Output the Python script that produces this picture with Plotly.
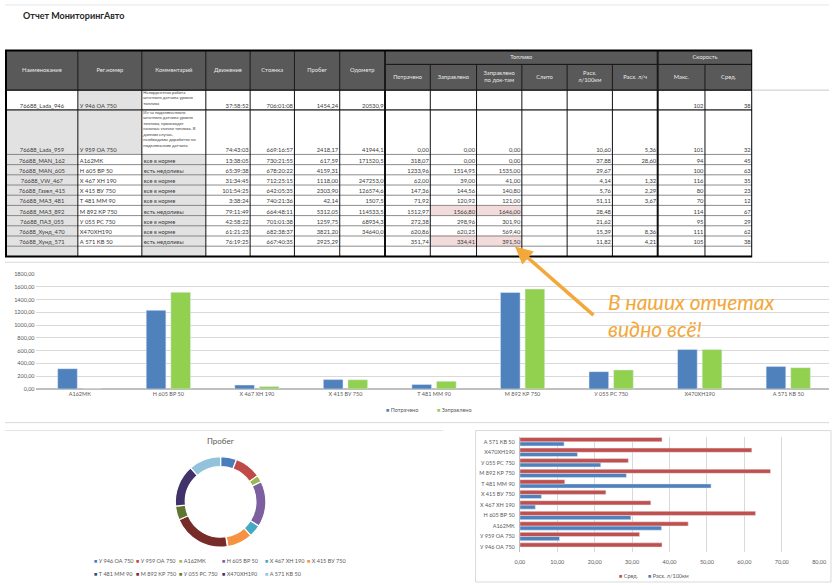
import numpy as np
import plotly.graph_objects as go

W, H = 837, 585

# ================= DATA =================
names = ["76688_Lada_946", "76688_Lada_959", "76688_MAN_162", "76688_MAN_605", "76688_VW_467",
         "76688_Газел_415", "76688_МАЗ_481", "76688_МАЗ_892", "76688_ПАЗ_055", "76688_Хунд_470",
         "76688_Хунд_571"]
plates = ["У 946 ОА 750", "У 959 ОА 750", "А162МК", "Н 605 ВР 50", "Х 467 ХН 190", "Х 415 ВУ 750",
          "Т 481 ММ 90", "М 892 КР 750", "У 055 РС 750", "Х470ХН190", "А 571 КВ 50"]
comments = ["Некорректная работа<br>штатного датчика уровня<br>топлива",
            "Из-за подключенного<br>штатного датчика уровня<br>топлива, происходят<br>сильные скачки топлива. В<br>данном случае,<br>необходимы доработки по<br>подключению датчика",
            "все в норме", "есть недоливы", "все в норме", "все в норме", "все в норме",
            "есть недоливы", "все в норме", "все в норме", "есть недоливы"]
moving = ["37:58:52", "74:43:03", "13:38:05", "65:39:38", "31:34:45", "101:54:25", "3:38:24",
          "79:11:49", "42:58:22", "61:21:23", "76:19:25"]
parking = ["706:01:08", "669:16:57", "730:21:55", "678:20:22", "712:25:15", "642:05:35",
           "740:21:36", "664:48:11", "701:01:38", "682:38:37", "667:40:35"]
mileage = [1454.24, 2418.17, 617.59, 4159.31, 1118.00, 2303.90, 42.14, 5312.05, 1259.75, 3821.20, 2925.29]
odometer = [20530.9, 41944.1, 171520.5, None, 247253.0, 126574.6, 1507.5, 114533.5, 68934.3, 34640.0, None]
fuel_spent = [None, 0.00, 318.07, 1233.96, 62.00, 147.36, 71.92, 1512.97, 272.38, 620.86, 351.74]
fuel_filled = [None, 0.00, 0.00, 1514.95, 39.00, 144.56, 120.92, 1566.80, 298.96, 620.25, 334.41]
fuel_filled_docs = [None, 0.00, 0.00, 1535.00, 41.00, 140.80, 121.00, 1646.00, 301.90, 569.40, 391.50]
fuel_drained = [None] * 11
cons_per_100km = [None, 10.60, 37.88, 29.67, 4.14, 5.76, 51.11, 28.48, 21.62, 15.39, 11.82]
cons_per_hour = [None, 5.36, 28.60, None, 1.32, 2.29, 3.67, None, None, 8.36, 4.21]
speed_max = [102, 101, 94, 100, 116, 80, 70, 114, 95, 111, 105]
speed_avg = [38, 32, 45, 63, 35, 23, 12, 67, 29, 62, 38]
highlight_rows = ["76688_МАЗ_892", "76688_Хунд_571"]

table_headers = ["Наименование", "Рег.номер", "Комментарий", "Движение", "Стоянка", "Пробег", "Одометр",
                 "Потрачено", "Заправлено", "Заправлено<br>по док-там", "Слито", "Расх.<br>л/100км",
                 "Расх. л/ч", "Макс.", "Сред."]
group_headers = ["Топливо", "Скорость"]
bar_series = ["Потрачено", "Заправлено"]
hbar_series = ["Сред.", "Расх. л/100км"]
donut_title = "Пробег"
report_title = "Отчет МониторингАвто"
callout = "В наших отчетах<br>видно всё!"

# ================= STYLE =================
FONT = "Lato"
TXT = "#3A3A3A"
AXT = "#595959"
BLUE, GREEN, RED = "#4F81BD", "#92D050", "#C0504D"
ORANGE = "#F2A83A"
donut_colors = ["#4A7EBB", "#BE4B48", "#98B954", "#7D60A0", "#46AAC5", "#F69240",
                "#2C4D75", "#772C2A", "#5F7530", "#41336A", "#93C3DC"]

col_w = [73, 65, 65, 45, 45, 46, 46, 46, 47, 46, 46, 46, 46, 48, 48]
x_edges = np.concatenate([[0.0], np.cumsum(col_w)])
TOP, GROUP_H, SUB_H = 48.0, 14.0, 26.0
body_h = [20.0, 45.0] + [10.3] * 10
y_edges = np.concatenate([[TOP, TOP + GROUP_H],
                          TOP + GROUP_H + SUB_H + np.concatenate([[0.0], np.cumsum(body_h)])])
TW = x_edges[-1]
BODY_TOP = y_edges[2]
BOT = y_edges[-1]


def fmt(v, d=2):
    return "" if v is None else f"{v:.{d}f}".replace(".", ",")


def px(xp):
    return xp / W


def py(yp):
    return 1 - yp / H


fig = go.Figure()

# ================= TABLE =================
body_cols = [names, plates, comments, moving, parking,
             [fmt(v) for v in mileage], [fmt(v, 1) for v in odometer],
             [fmt(v) for v in fuel_spent], [fmt(v) for v in fuel_filled],
             [fmt(v) for v in fuel_filled_docs], [fmt(v) for v in fuel_drained],
             [fmt(v) for v in cons_per_100km], [fmt(v) for v in cons_per_hour],
             [str(v) for v in speed_max], [str(v) for v in speed_avg]]
aligns = ["center", "left", "left"] + ["right"] * 12
ncol = len(body_cols)
nrow = len(names)

# cell fills (0 white, 1 gray, 2 pink, 3 header)
z = [[3] * ncol, [3] * ncol]
pink_cols = [8, 9]
for i in range(nrow + 1):
    row = []
    for j in range(ncol):
        if i == 0:
            c = 1 if j == 1 else 0
        elif i == 1:
            c = 1 if j in (0, 1) else 0
        else:
            c = 1 if j in (0, 2) else 0
        if i < nrow and names[i] in highlight_rows and j in pink_cols:
            c = 2
        row.append(c)
    z.append(row)

cs = [[0, "#FFFFFF"], [1 / 6, "#FFFFFF"], [1 / 6, "#E2E2E2"], [0.5, "#E2E2E2"],
      [0.5, "#F2DCDB"], [5 / 6, "#F2DCDB"], [5 / 6, "#595959"], [1, "#595959"]]
fig.add_trace(go.Heatmap(x=x_edges, y=y_edges, z=z, zmin=0, zmax=3, colorscale=cs,
                         showscale=False, hoverinfo="skip", xaxis="x3", yaxis="y3"))


def add_text(x, y, text, pos, size=6, color=TXT, xa="x3", ya="y3", family=FONT):
    fig.add_trace(go.Scatter(x=x, y=y, text=text, mode="text", textposition=pos,
                             textfont=dict(family=family, size=size, color=color),
                             hoverinfo="skip", showlegend=False, xaxis=xa, yaxis=ya))


# header labels
for j, h in enumerate(table_headers):
    yc = (y_edges[0] + y_edges[2]) / 2 if j < 7 else (y_edges[1] + y_edges[2]) / 2
    add_text([(x_edges[j] + x_edges[j + 1]) / 2], [yc], [h], "middle center", 5.8, "#E8E8E8")
add_text([(x_edges[7] + x_edges[13]) / 2, (x_edges[13] + x_edges[15]) / 2],
         [(y_edges[0] + y_edges[1]) / 2] * 2, group_headers, "middle center", 5.8, "#E8E8E8")

# body labels
for j, col in enumerate(body_cols):
    xs, ys, ts = [], [], []
    for i, t in enumerate(col):
        if t == "" or (j == 2 and i < 2):
            continue
        if aligns[j] == "center":
            xs.append((x_edges[j] + x_edges[j + 1]) / 2)
        elif aligns[j] == "left":
            xs.append(x_edges[j] + 2)
        else:
            xs.append(x_edges[j + 1] - 1.5)
        ys.append(y_edges[3 + i] - 0.6)
        ts.append(t)
    pos = {"center": "top center", "left": "top right", "right": "top left"}[aligns[j]]
    add_text(xs, ys, ts, pos, 5.8)
# multi-line comments
add_text([x_edges[2] + 1.5] * 2, [y_edges[2] + 0.8, y_edges[3] + 0.8], comments[:2], "bottom right", 4.2)

shapes = []


def seg(x0, y0, x1, y1, color, width):
    shapes.append(dict(type="line", xref="x3", yref="y3", x0=x0, y0=y0, x1=x1, y1=y1,
                       line=dict(color=color, width=width)))


# horizontal lines
for k in range(4, len(y_edges) - 1):
    seg(0, y_edges[k], TW, y_edges[k], "#707070", 0.8)
seg(0, y_edges[3], TW, y_edges[3], "#5A5A5A", 1.6)
seg(0, BODY_TOP, TW, BODY_TOP, "#111111", 1.4)
seg(x_edges[7], y_edges[1], TW, y_edges[1], "#111111", 1)
# vertical lines
for k in range(1, ncol):
    wdt = 2 if k in (7, 13) else 1
    seg(x_edges[k], BODY_TOP, x_edges[k], BOT, "#111111", wdt)
    if k <= 7 or k == 13:
        seg(x_edges[k], TOP, x_edges[k], BODY_TOP, "#1A1A1A", wdt)
    else:
        seg(x_edges[k], y_edges[1], x_edges[k], BODY_TOP, "#1A1A1A", 1)
shapes.append(dict(type="rect", xref="x3", yref="y3", x0=0, y0=TOP, x1=TW, y1=BOT,
                   line=dict(color="#000000", width=2)))


# page decorations (paper coords)
def pline(x0, y0, x1, y1, color="#D9D9D9", width=1):
    shapes.append(dict(type="line", xref="paper", yref="paper", x0=px(x0), y0=py(y0),
                       x1=px(x1), y1=py(y1), line=dict(color=color, width=width)))


pline(0, 2, W, 2, "#E6E6E6")
pline(TW + 1, BODY_TOP, W, BODY_TOP, "#C8C8C8")
pline(0, 262, W, 262, "#D9D9D9")
pline(0, 424, W, 424, "#D9D9D9")
pline(0, 432, 445, 432, "#E3E3E3")
shapes.append(dict(type="rect", xref="paper", yref="paper", x0=px(478), y0=py(585), x1=px(W + 2),
                   y1=py(432), line=dict(color="#D9D9D9", width=1)))

# ================= BAR CHART =================
bar_cats = plates[2:]
fig.add_trace(go.Bar(x=bar_cats, y=fuel_spent[2:], name=bar_series[0], marker_color=BLUE,
                     width=0.222, offset=-0.25, xaxis="x", yaxis="y",
                     hovertemplate="%{x}: %{y:.2f}<extra>" + bar_series[0] + "</extra>"))
fig.add_trace(go.Bar(x=bar_cats, y=fuel_filled[2:], name=bar_series[1], marker_color=GREEN,
                     width=0.222, offset=0.028, xaxis="x", yaxis="y",
                     hovertemplate="%{x}: %{y:.2f}<extra>" + bar_series[1] + "</extra>"))

# ================= HORIZONTAL BARS =================
fig.add_trace(go.Bar(y=plates, x=cons_per_100km, orientation="h", name=hbar_series[1],
                     marker_color=BLUE, width=0.4, offset=-0.4, xaxis="x2", yaxis="y2"))
fig.add_trace(go.Bar(y=plates, x=speed_avg, orientation="h", name=hbar_series[0],
                     marker_color=RED, width=0.4, offset=0.0, xaxis="x2", yaxis="y2"))

# ================= DONUT =================
fig.add_trace(go.Pie(labels=plates, values=mileage, hole=0.78, sort=False, direction="clockwise",
                     rotation=0, marker=dict(colors=donut_colors, line=dict(color="white", width=1.2)),
                     textinfo="none", showlegend=False,
                     domain=dict(x=[px(173), px(265)], y=[py(550), py(458)])))

annotations = [
    dict(text="<b>" + report_title + "</b>", x=px(16), y=py(13), xref="paper", yref="paper",
         xanchor="left", yanchor="middle", showarrow=False,
         font=dict(family=FONT, size=9, color="#262626")),
    dict(text=donut_title, x=px(219), y=py(443), xref="paper", yref="paper", xanchor="center",
         yanchor="middle", showarrow=False, font=dict(family=FONT, size=8, color="#595959")),
    dict(text="", x=px(518), y=py(246), xref="paper", yref="paper", ax=80, ay=70,
         showarrow=True, arrowhead=2, arrowsize=1, arrowwidth=3.5, arrowcolor=ORANGE),
    dict(text="<i>" + callout + "</i>", x=px(610), y=py(315), xref="paper", yref="paper",
         xanchor="left", yanchor="middle", align="left", showarrow=False,
         font=dict(family=FONT, size=21, color=ORANGE)),
]


def legend_entry(label, color, x, y):
    annotations.append(dict(text=f'<span style="color:{color}">■</span> {label}',
                            x=px(x), y=py(y), xref="paper", yref="paper",
                            xanchor="left", yanchor="middle", showarrow=False,
                            font=dict(family=FONT, size=5.5, color=AXT)))


# donut legend (grid of entries)
for i, (lab, c) in enumerate(zip(plates, donut_colors)):
    r, k = divmod(i, 6)
    legend_entry(lab, c, 88 + 43.4 * k, 564 + 13 * r)
# bar chart legend
for k, (lab, c) in enumerate(zip(bar_series, [BLUE, GREEN])):
    legend_entry(lab, c, 385 + 52 * k, 411)
# horizontal bar legend
for k, (lab, c) in enumerate(zip(hbar_series, [RED, BLUE])):
    legend_entry(lab, c, 622 + 29 * k, 579)

fig.update_layout(
    width=W, height=H, margin=dict(l=0, r=0, t=0, b=0), autosize=False,
    paper_bgcolor="white", plot_bgcolor="rgba(0,0,0,0)", separators=", ",
    font=dict(family=FONT, color=AXT), barmode="group", hovermode="closest",
    showlegend=False,
    xaxis=dict(domain=[px(31), 1], type="category", range=[-0.5, 8.46], showgrid=False,
               tickfont=dict(size=5.5, color=AXT), ticks="", showline=False, anchor="y",
               fixedrange=True),
    yaxis=dict(domain=[py(390), py(274)], range=[0, 1800], dtick=200, tickformat=".2f",
               gridcolor="#D9D9D9", gridwidth=1, zeroline=True, zerolinecolor="#BFBFBF",
               tickfont=dict(size=5.5, color=AXT), anchor="x", fixedrange=True),
    xaxis2=dict(domain=[px(523), px(827)], range=[0, 80], dtick=10, tickformat=".2f",
                gridcolor="#D9D9D9", zeroline=False, tickfont=dict(size=5.5, color=AXT),
                anchor="y2", ticklabelstandoff=5, fixedrange=True),
    yaxis2=dict(domain=[py(555), py(438)], type="category", showgrid=False, showline=True,
                linecolor="#BFBFBF", ticks="", tickfont=dict(size=5.5, color=AXT), anchor="x2",
                ticklabelstandoff=3, fixedrange=True),
    xaxis3=dict(domain=[0, (TW + 1) / W], range=[-1, TW], visible=False, anchor="y3",
                fixedrange=True),
    yaxis3=dict(domain=[py(BOT + 2), py(TOP - 2)], range=[BOT + 2, TOP - 2], visible=False,
                anchor="x3", fixedrange=True),
    shapes=shapes,
    annotations=annotations,
)

# remove the browser's default page margin so the figure sits at the window's corner
fig.write_html("out.html", config={"displayModeBar": False},
               post_script="document.body.style.margin='0';document.body.style.overflow='hidden';")
